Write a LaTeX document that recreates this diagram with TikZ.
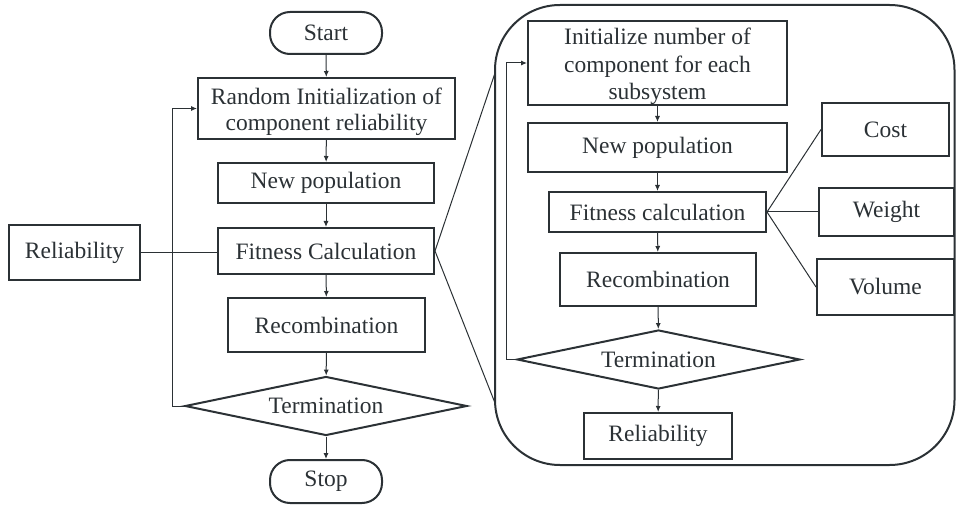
\documentclass[tikz,border=0pt]{standalone}
\usepackage{fontspec}
\setmainfont{Liberation Serif}
\usetikzlibrary{arrows.meta,shapes.geometric}
\definecolor{lc}{HTML}{2B3135}
\begin{document}
\begin{tikzpicture}[x=1pt,y=-1pt,
  every node/.style={text=lc},
  boxn/.style={draw=lc,line width=2pt,rectangle,inner sep=0pt,align=center,
    font=\fontsize{23.5}{25.5}\selectfont},
  termn/.style={boxn,rounded corners=20pt},
  decn/.style={draw=lc,line width=2pt,diamond,inner sep=0pt,
    font=\fontsize{23.5}{25.5}\selectfont},
  arr/.style={draw=lc,line width=1pt,-{Latex[length=6pt,width=5pt]}},
  ln/.style={draw=lc,line width=1pt}]
\useasboundingbox (0,0) rectangle (956,505);
% big rounded frame
\draw[lc,line width=2pt,rounded corners=65pt] (495,5) rectangle (954.5,465);
\coordinate (zt) at (495,73);
\coordinate (zb) at (495,403);
% left flow
\node[termn,minimum width=112pt,minimum height=42pt] (start) at (326,33) {Start};
\node[boxn,minimum width=257pt,minimum height=61pt] (init) at (326.5,108.5) {\rule{0pt}{23pt}Random Initialization of\\component reliability};
\node[boxn,minimum width=216pt,minimum height=40pt] (newpop) at (326,183) {New population};
\node[boxn,minimum width=216pt,minimum height=46pt] (fit) at (326,251) {Fitness Calculation};
\node[boxn,minimum width=131pt,minimum height=55pt] (rel) at (74.5,252.5) {Reliability};
\node[boxn,minimum width=197pt,minimum height=54pt] (recomb) at (326.5,325) {Recombination};
\node[decn,minimum width=282pt,minimum height=59pt,aspect=4.78] (term) at (326,406) {Termination};
\node[termn,minimum width=112pt,minimum height=43pt] (stop) at (326,481.5) {Stop};
\draw[arr] (start) -- (init);
\draw[arr] (init) -- (newpop);
\draw[arr] (newpop) -- (fit);
\draw[arr] (fit) -- (recomb);
\draw[arr] (recomb) -- (term);
\draw[arr] (term) -- (stop);
\draw[ln] (rel.east) -- (rel.east -| fit.west);
\draw[arr] (term.west) -- ++(-12,0) |- (init.west);
\draw[ln] (fit.east) -- (zt);
\draw[ln] (fit.east) -- (zb);
% inner flow
\node[boxn,minimum width=259pt,minimum height=80pt,font=\fontsize{23.5}{27.5}\selectfont] (init2) at (657.5,63) {\rule{0pt}{24pt}Initialize number of\\component for each\\subsystem};
\node[boxn,minimum width=259pt,minimum height=49pt] (newpop2) at (657.5,147.5) {New population};
\node[boxn,minimum width=217pt,minimum height=40pt] (fit2) at (657.5,212) {Fitness calculation};
\node[boxn,minimum width=196pt,minimum height=53pt] (recomb2) at (658,279.5) {Recombination};
\node[decn,minimum width=283pt,minimum height=59pt,aspect=4.8] (term2) at (658.5,359.5) {Termination};
\node[boxn,minimum width=148pt,minimum height=46pt] (rel2) at (658,436) {Reliability};
\node[boxn,minimum width=127pt,minimum height=53pt] (cost) at (885.5,129.5) {Cost};
\node[boxn,minimum width=135pt,minimum height=48pt] (weight) at (886.5,212) {Weight};
\node[boxn,minimum width=137pt,minimum height=56pt] (volume) at (885.5,287) {Volume};
\draw[arr] (init2) -- (newpop2);
\draw[arr] (newpop2) -- (fit2);
\draw[arr] (fit2) -- (recomb2);
\draw[arr] (recomb2) -- (term2);
\draw[arr] (term2) -- (rel2);
\draw[arr] (term2.west) -- ++(-10,0) |- (init2.west);
\draw[ln] (fit2.east) -- (cost.west);
\draw[ln] (fit2.east) -- (weight.west);
\draw[ln] (fit2.east) -- (volume.west);
\end{tikzpicture}
\end{document}
